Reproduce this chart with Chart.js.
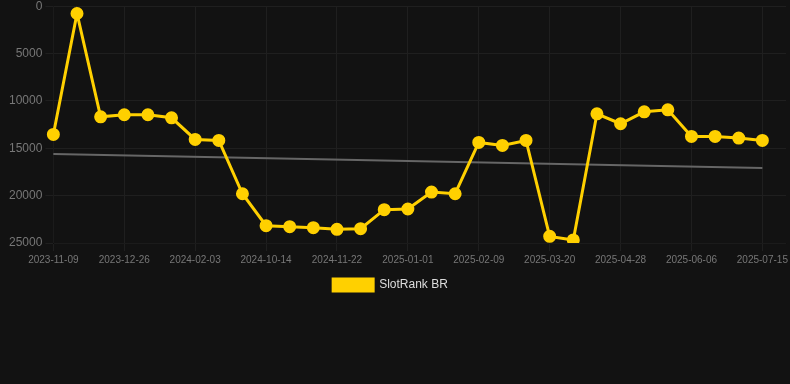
<!DOCTYPE html>
<html>
<head>
    <title>SlotRank BR</title>
    <script src="https://cdnjs.cloudflare.com/ajax/libs/Chart.js/4.4.0/chart.umd.min.js"></script>
    <style>
        html, body {
            margin: 0;
            padding: 0;
            background: #121212;
            overflow: hidden;
        }
        .chart-container {
            position: absolute;
            left: 0;
            top: -4px;
            width: 794px;
            height: 305px;
        }
    </style>
</head>
<body>
    <div class="chart-container">
        <canvas id="myChart"></canvas>
    </div>

    <script>
        const dates = [
            '2023-11-09', '2023-11-25', '2023-12-10', '2023-12-26', '2024-01-08', '2024-01-21',
            '2024-02-03', '2024-02-16', '2024-10-01', '2024-10-14', '2024-10-27', '2024-11-09',
            '2024-11-22', '2024-12-05', '2024-12-18', '2025-01-01', '2025-01-14', '2025-01-27',
            '2025-02-09', '2025-02-22', '2025-03-07', '2025-03-20', '2025-04-02', '2025-04-15',
            '2025-04-28', '2025-05-11', '2025-05-24', '2025-06-06', '2025-06-19', '2025-07-02',
            '2025-07-15', '2025-07-28'
        ];
        const ranks = [
            13540, 770, 11680, 11460, 11460, 11780,
            14070, 14170, 19800, 23170, 23280, 23380,
            23560, 23490, 21480, 21410, 19620, 19800,
            14380, 14700, 14170, 24300, 24680, 11360,
            12410, 11150, 10940, 13750, 13750, 13920,
            14170, null
        ];
        // trend only known at its ends, straight line between
        const trend = [15610].concat(new Array(29).fill(null), [17090, null]);
        const yTicks = [0, 5000, 10000, 15000, 20000, 25000];

        const ctx = document.getElementById('myChart');

        // legend sits a bit left of the canvas centre in the original
        const legendShift = {
            id: 'legendShift',
            afterLayout(chart) {
                chart.legend.right -= 19;
            }
        };

        new Chart(ctx, {
            type: 'line',
            data: {
                labels: dates,
                datasets: [{
                    label: 'SlotRank BR',
                    data: ranks,
                    borderColor: '#FFD000',
                    backgroundColor: '#FFD000',
                    borderWidth: 3,
                    pointRadius: 5,
                    pointHoverRadius: 5,
                    tension: 0
                }, {
                    label: 'Trend',
                    data: trend,
                    borderColor: '#666666',
                    borderWidth: 2,
                    pointRadius: 0,
                    spanGaps: true,
                    tension: 0
                }]
            },
            options: {
                responsive: true,
                maintainAspectRatio: false,
                animation: false,
                layout: {
                    padding: { left: 6 }
                },
                plugins: {
                    legend: {
                        position: 'bottom',
                        labels: {
                            color: '#dddddd',
                            boxWidth: 40,
                            font: { size: 12, family: 'Arial' },
                            filter: item => item.text !== 'Trend'
                        }
                    },
                    tooltip: { enabled: false }
                },
                scales: {
                    x: {
                        grid: { color: '#1f1f1f' },
                        ticks: {
                            color: '#777777',
                            maxRotation: 0,
                            font: { size: 10, family: 'Arial' }
                        }
                    },
                    y: {
                        reverse: true,
                        min: 0,
                        max: 25000,
                        grid: { color: '#1f1f1f' },
                        afterBuildTicks: axis => {
                            axis.ticks = yTicks.map(v => ({ value: v }));
                        },
                        ticks: {
                            color: '#777777',
                            font: { size: 12, family: 'Arial' },
                            callback: v => String(v)
                        }
                    }
                }
            },
            plugins: [legendShift]
        });
    </script>
</body>
</html>
